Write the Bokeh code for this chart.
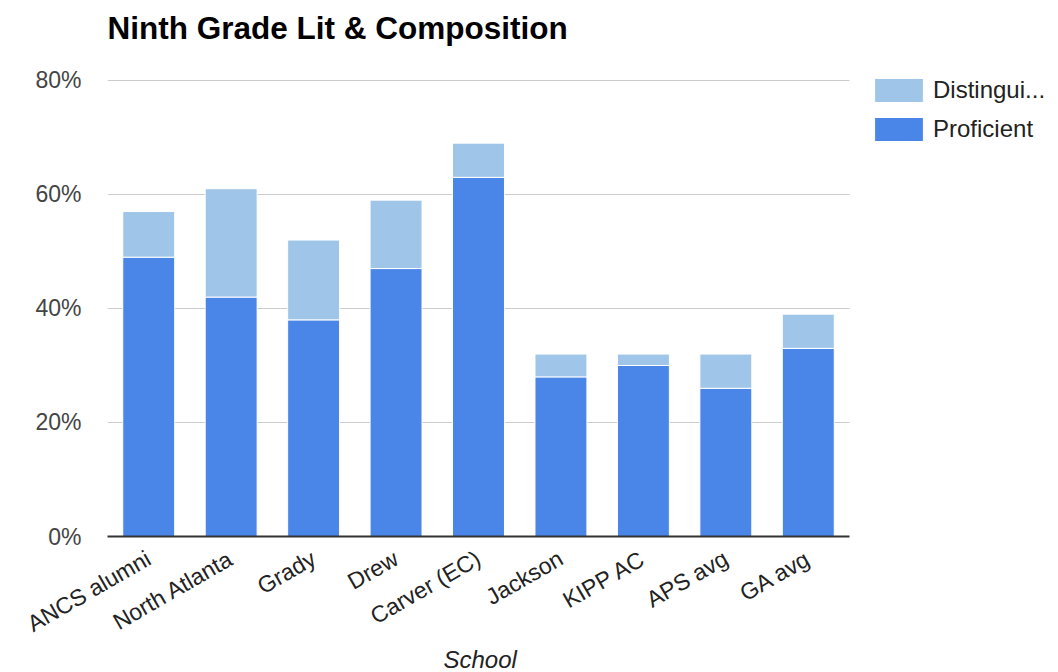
import math
from bokeh.plotting import figure
from bokeh.models import ColumnDataSource, Legend, LegendItem, PrintfTickFormatter, Title, FixedTicker, Range1d
from bokeh.embed import file_html
from bokeh.resources import INLINE

schools = ["ANCS alumni", "North Atlanta", "Grady", "Drew", "Carver (EC)",
           "Jackson", "KIPP AC", "APS avg", "GA avg"]
proficient = [49, 42, 38, 47, 63, 28, 30, 26, 33]
distinguished = [8, 19, 14, 12, 6, 4, 2, 6, 6]
series = ["proficient", "distinguished"]
series_labels = ["Proficient", "Distingui..."]
colors = ["#4a86e8", "#9fc5e8"]
y_ticks = [0, 20, 40, 60, 80]

idx = list(range(len(schools)))
source = ColumnDataSource(dict(pos=idx, school=schools, proficient=proficient, distinguished=distinguished))

FONT = "Liberation Sans"
n = len(schools)

# x range extends to the right to leave room for the legend beside the bars
p = figure(x_range=Range1d(-0.5, 11.035), y_range=Range1d(0, 84.9), width=1058, height=672,
           output_backend="svg", toolbar_location=None,
           min_border_left=107, min_border_right=0, min_border_top=10, min_border_bottom=136)
p.outline_line_color = None

title = Title(text="Ninth Grade Lit & Composition", text_font=FONT, text_font_size="31.5px",
              text_font_style="bold", text_color="#000000", align="left", standoff=14)
p.add_layout(title, "above")

renderers = p.vbar_stack(series, x="pos", width=0.63, source=source,
                         color=colors, line_color="white", line_width=1)

# Y axis
p.yaxis.ticker = FixedTicker(ticks=y_ticks)
p.yaxis.formatter = PrintfTickFormatter(format="%d%%")
p.yaxis.axis_line_color = None
p.yaxis.major_tick_line_color = None
p.yaxis.major_tick_out = 0
p.yaxis.minor_tick_line_color = None
p.yaxis.minor_tick_out = 0
p.yaxis.major_label_standoff = 26
p.yaxis.major_label_text_font = FONT
p.yaxis.major_label_text_font_size = "23px"
p.yaxis.major_label_text_color = "#444444"

# X axis (category labels on integer positions)
p.xaxis.ticker = FixedTicker(ticks=idx)
p.xaxis.major_label_overrides = {i: s for i, s in zip(idx, schools)}
p.xaxis.bounds = (-0.5, n - 0.5)
p.xaxis.axis_line_color = "#333333"
p.xaxis.axis_line_width = 2
p.xaxis.major_tick_line_color = None
p.xaxis.major_tick_out = 0
p.xaxis.minor_tick_line_color = None
p.xaxis.minor_tick_out = 0
p.xaxis.major_label_orientation = math.pi / 6
p.xaxis.major_label_standoff = 20
p.xaxis.major_label_text_font = FONT
p.xaxis.major_label_text_font_size = "23px"
p.xaxis.major_label_text_color = "#222222"

# axis title, centred under the bars
x_title = Title(text="School", text_font=FONT, text_font_size="24px", text_font_style="italic",
                text_color="#222222", align="left", offset=336, standoff=-16)
p.add_layout(x_title, "below")

p.xgrid.grid_line_color = None
p.ygrid.grid_line_color = "#cccccc"
p.ygrid.ticker = FixedTicker(ticks=y_ticks[1:])
p.ygrid.cross_bounds = (-0.5, n - 0.5)

legend = Legend(items=[LegendItem(label=series_labels[1], renderers=[renderers[1]]),
                       LegendItem(label=series_labels[0], renderers=[renderers[0]])],
                location=(761, 392), orientation="vertical",
                glyph_width=61, glyph_height=30, label_height=30, spacing=9,
                padding=0, margin=0,
                label_standoff=4, label_text_font=FONT, label_text_font_size="24px",
                label_text_color="#222222", border_line_color=None,
                background_fill_alpha=0)
p.add_layout(legend, "center")

open("out.html", "w").write(file_html(p, INLINE))
